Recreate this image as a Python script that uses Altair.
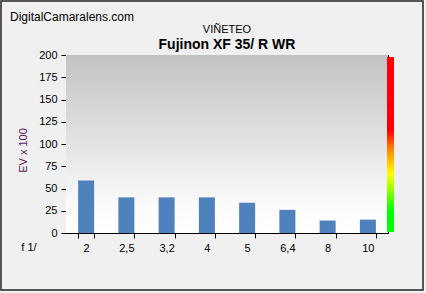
import altair as alt
import pandas as pd

apertures = ["2", "2,5", "3,2", "4", "5", "6,4", "8", "10"]
vignetting = [59, 40, 40, 40, 34, 26, 14, 15]

site = "DigitalCamaralens.com"
title_main = "VIÑETEO"
title_lens = "Fujinon XF 35/ R WR"
x_prefix = "f 1/"
y_title = "EV x 100"

W, H = 322, 178
FONT = "Liberation Sans"

df = pd.DataFrame({"ap": apertures, "ev": vignetting})
one = pd.DataFrame({"k": [0]})

bg = alt.Chart(one).mark_rect(
    color=alt.Gradient(
        gradient="linear", x1=0, y1=0, x2=0, y2=1,
        stops=[alt.GradientStop(offset=0, color="#c2c2c2"),
               alt.GradientStop(offset=0.85, color="#fbfbfb"),
               alt.GradientStop(offset=1, color="#ffffff")],
    )
).encode(x=alt.value(0), x2=alt.value(W), y=alt.value(0), y2=alt.value(H))

bars = alt.Chart(df).mark_bar(color="#4f81bd", size=16).encode(
    x=alt.X("ap:N", sort=apertures, title=None,
            scale=alt.Scale(paddingInner=0.6, paddingOuter=0.3),
            axis=alt.Axis(labelAngle=0, tickBand="extent", domainColor="#000000",
                          tickColor="#000000", tickSize=5, labelPadding=4,
                          labelFont=FONT, labelFontSize=11, labelColor="#000000")),
    y=alt.Y("ev:Q", scale=alt.Scale(domain=[0, 200]),
            axis=alt.Axis(values=list(range(0, 201, 25)), grid=False, domainColor="#000000",
                          tickColor="#000000", tickSize=5, labelPadding=4,
                          labelFont=FONT, labelFontSize=11, labelColor="#000000",
                          title=y_title, titleFont=FONT, titleFontSize=11,
                          titleFontWeight="normal", titleColor="#5a1a5e",
                          titlePadding=10, titleY=95)),
)

cbar = alt.Chart(one).mark_rect(
    color=alt.Gradient(
        gradient="linear", x1=0, y1=0, x2=0, y2=1,
        stops=[alt.GradientStop(offset=0, color="#ff0000"),
               alt.GradientStop(offset=0.42, color="#ff0000"),
               alt.GradientStop(offset=0.52, color="#ff8000"),
               alt.GradientStop(offset=0.67, color="#ffff00"),
               alt.GradientStop(offset=0.88, color="#00ff00"),
               alt.GradientStop(offset=1, color="#00ff00")],
    )
).encode(x=alt.value(321), x2=alt.value(328), y=alt.value(2), y2=alt.value(H - 1))

border = alt.Chart(one).mark_rect(fill=None, stroke="#222222", strokeWidth=1.5).encode(
    x=alt.value(-65), x2=alt.value(357), y=alt.value(-54), y2=alt.value(235))

t_site = alt.Chart(one).mark_text(text=site, font=FONT, fontSize=12, align="left",
                                  baseline="middle", color="#000000").encode(
    x=alt.value(-56), y=alt.value(-38))
t_main = alt.Chart(one).mark_text(text=title_main, font=FONT, fontSize=11, align="center",
                                  baseline="middle", color="#000000").encode(
    x=alt.value(W / 2), y=alt.value(-25))
t_lens = alt.Chart(one).mark_text(text=title_lens, font=FONT, fontSize=14, fontWeight="bold",
                                  align="center", baseline="middle", color="#000000").encode(
    x=alt.value(W / 2), y=alt.value(-10))
t_f = alt.Chart(one).mark_text(text=x_prefix, font=FONT, fontSize=11, align="center",
                               baseline="middle", color="#000000").encode(
    x=alt.value(-37), y=alt.value(193))

chart = alt.layer(bg, bars, cbar, border, t_site, t_main, t_lens, t_f).properties(
    width=W, height=H,
    background="#f0f0f0",
    autosize=alt.AutoSizeParams(type="none"),
    padding={"left": 66, "top": 55, "right": 38, "bottom": 60},
).configure_view(stroke="#000000", strokeWidth=1)

chart.save("out.html", embed_options={"renderer": "svg", "actions": False})
